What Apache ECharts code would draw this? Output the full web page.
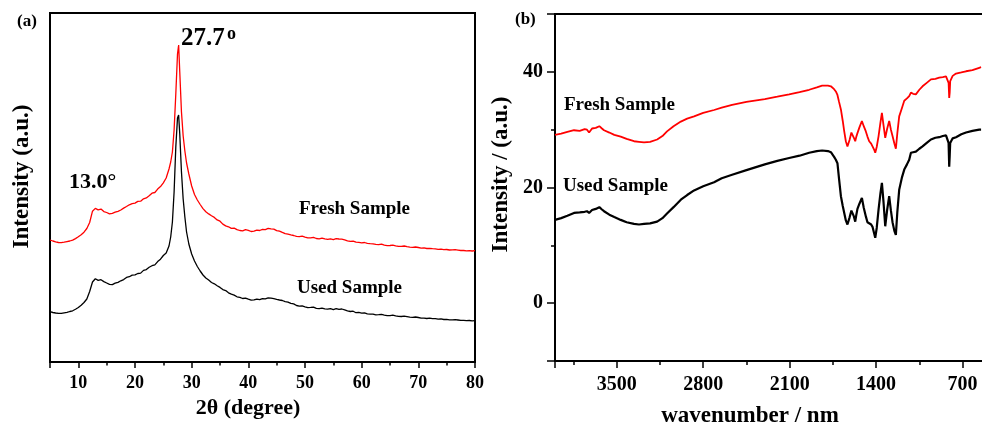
<!DOCTYPE html>
<html>
<head>
<meta charset="utf-8">
<title>XRD and FTIR of fresh and used samples</title>
<script src="https://cdn.jsdelivr.net/npm/echarts@6/dist/echarts.min.js"></script>
<style>
  html, body { margin: 0; padding: 0; background: #fff; }
  #chart { width: 982px; height: 427px; }
</style>
</head>
<body>
<div id="chart"></div>
<script>
// ---- (a) XRD patterns: 2θ in degrees, intensity in arbitrary units ----
const xrdAngle = [
  5, 5.5, 6, 6.5, 7, 7.5, 8, 8.5, 9, 9.5, 10, 10.5, 11, 11.5, 12, 12.5, 13, 13.5, 14, 14.5,
  15, 15.5, 16, 16.5, 17, 17.5, 18, 18.5, 19, 19.5, 20, 20.5, 21, 21.5, 22, 22.5, 23, 23.5,
  24, 24.5, 25, 25.5, 26, 26.3, 26.6, 26.9, 27.2, 27.5, 27.7, 27.9, 28.2, 28.5, 28.8, 29.1,
  29.5, 30, 30.5, 31, 31.5, 32, 32.5, 33, 33.5, 34, 34.5, 35, 35.5, 36, 36.5, 37, 37.5, 38,
  38.5, 39, 39.5, 40, 40.5, 41, 41.5, 42, 42.5, 43, 43.5, 44, 44.5, 45, 45.5, 46, 46.5, 47,
  47.5, 48, 48.5, 49, 49.5, 50, 50.5, 51, 51.5, 52, 52.5, 53, 53.5, 54, 54.5, 55, 55.5, 56,
  56.5, 57, 57.5, 58, 58.5, 59, 59.5, 60, 60.5, 61, 61.5, 62, 62.5, 63, 63.5, 64, 64.5, 65,
  65.5, 66, 66.5, 67, 67.5, 68, 68.5, 69, 69.5, 70, 70.5, 71, 71.5, 72, 72.5, 73, 73.5, 74,
  74.5, 75, 75.5, 76, 76.5, 77, 77.5, 78, 78.5, 79, 79.5, 80
];
const xrdFresh = [
  122, 121, 120.2, 119.5, 119.3, 119.8, 120.4, 121, 121.9, 123.4, 125.2, 127.2, 129.8, 133.5,
  139.5, 150.8, 153.6, 152.2, 152.9, 150.4, 149.5, 148.2, 148.6, 149.8, 150.7, 152, 153.9,
  155.5, 157.2, 158.4, 158.9, 160.6, 160.8, 163.2, 164.1, 166.3, 168.8, 169.5, 172.9, 175.4,
  179.2, 184, 193, 200, 210, 232, 268, 308, 317, 290, 250, 226, 211, 199, 188,
  176, 167.5, 162, 157.5, 153.4, 150.3, 148.1, 146.2, 144.6, 142.1, 140.8, 137.9, 136.1,
  135.2, 133.6, 133.8, 132.4, 131.5, 131.2, 132.3, 131.7, 130.5, 130.9, 131.9, 131.5, 132.6,
  132.4, 133.6, 133.1, 132.8, 131.4, 130.9, 129.6, 128.4, 127.8, 127.1, 126.5, 125.6, 125.4,
  125.8, 124.9, 124.2, 124.1, 124.6, 123.5, 123.2, 123.9, 123.1, 122.6, 123.2, 122.4, 123.4,
  123, 122.8, 122.1, 121.2, 120.6, 120.9, 119.8, 119.6, 119.2, 119.5, 118.6, 118.3, 118.1,
  117.6, 117.4, 117.8, 116.8, 116.4, 116.5, 116.9, 116.1, 115.6, 115.7, 116.0, 115.3, 114.8,
  114.6, 115.0, 114.5, 113.9, 114.1, 113.5, 113.7, 113.4, 113.2, 112.6, 112.9, 112.4, 112.5,
  112.0, 112.1, 112.3, 111.9, 111.5, 111.5, 111.1, 111.4, 111.0, 111.3
];
const xrdUsed = [
  50.3, 49.5, 49, 48.6, 48.7, 49.2, 49.6, 50.5, 51.2, 52.8, 54.5, 56.8, 59.5, 63, 70.5, 80,
  83.2, 81.6, 82.3, 80.4, 79, 77.6, 77.4, 78.8, 79.6, 81.2, 82.4, 84.6, 85.3, 86.9, 87.2, 88.5,
  88.9, 91.6, 92.4, 94.7, 96.3, 97.1, 100.4, 102.8, 106.5, 109, 116, 125, 140, 170, 215, 244,
  247, 228, 190, 163, 145, 130, 118,
  108, 101, 95.5, 91, 87, 84, 81.9, 79.5, 78.2, 76.3, 74.6, 72.4, 71.4, 69.2, 67.8, 66.9,
  65.2, 64.6, 63.5, 63.9, 62.8, 61.9, 62.1, 62.9, 62.4, 63.4, 63.1, 64.2, 63.8, 63.3, 62.6,
  62.0, 61.5, 60.4, 59.9, 58.6, 58.1, 56.5, 55.8, 56.1, 55.2, 54.4, 54.6, 54.9, 53.7, 53.3,
  53.9, 53.2, 52.8, 53.3, 52.4, 53.4, 52.6, 53.0, 52.1, 51.2, 50.5, 50.8, 49.3, 49.6, 48.9,
  49.2, 48.2, 47.9, 47.8, 47.2, 47.3, 47.6, 46.9, 46.3, 46.4, 46.8, 46.1, 45.6, 45.5, 45.9,
  45.4, 44.9, 44.6, 45.0, 44.5, 43.9, 43.9, 43.5, 43.8, 43.4, 43.4, 42.8, 43.1, 42.5, 42.6,
  42.1, 42.2, 42.4, 42.0, 41.6, 41.7, 41.3, 41.5, 41.1, 41.3
];

// ---- (b) FTIR spectra: wavenumber vs intensity ----
const irWavenumber = [
  4000, 3950, 3900, 3846, 3800, 3760, 3741, 3724, 3700, 3670, 3641, 3620, 3603, 3560, 3520,
  3468, 3420, 3360, 3320, 3279, 3230, 3173, 3130, 3093, 3040, 2981, 2930, 2874, 2800, 2712,
  2650, 2566, 2450, 2301, 2200, 2104, 2020, 1942, 1880, 1837, 1790, 1766, 1740, 1726, 1713,
  1700, 1685, 1670, 1658, 1645, 1632, 1615, 1600, 1591, 1580, 1569, 1560, 1551, 1535, 1515,
  1500, 1483, 1470, 1456, 1440, 1429, 1415, 1407, 1395, 1380, 1365, 1353, 1340, 1326, 1310,
  1294, 1280, 1267, 1252, 1240, 1228, 1213, 1190, 1172, 1150, 1132, 1118, 1100, 1078, 1050,
  1024, 990, 956, 920, 889, 860, 834, 820, 813, 808, 804, 800, 780, 753, 710, 672, 620, 565, 550
];
const irFresh = [
  29.1, 29.3, 29.6, 29.9, 29.8, 30.1, 30.0, 29.5, 30.2, 30.3, 30.6, 30.2, 29.9, 29.5, 29.1,
  28.8, 28.4, 28.0, 27.9, 27.8, 27.9, 28.3, 28.9, 29.7, 30.6, 31.4, 31.9, 32.3, 32.9, 33.4,
  33.8, 34.3, 34.8, 35.3, 35.7, 36.1, 36.5, 36.9, 37.3, 37.6, 37.6, 37.5, 37.0, 36.6, 36.0,
  34.8, 33.5, 31.5, 29.7, 28.0, 27.1, 28.2, 29.5, 29.4, 28.6, 28.0, 28.8, 29.4, 30.4, 31.5,
  30.6, 29.7, 28.8, 28.0, 27.6, 27.4, 26.5, 26.0, 27.0, 28.9, 31.2, 32.9, 30.8, 28.6, 30.2,
  31.5, 30.0, 28.9, 27.6, 26.7, 29.4, 32.3, 33.8, 35.0, 35.4, 35.8, 36.4, 36.2, 36.1, 36.9,
  37.5, 38.1, 38.7, 38.8, 39.0, 39.1, 39.2, 38.9, 38.1, 35.5, 36.4, 38.4, 39.3, 39.7, 39.9,
  40.1, 40.3, 40.7, 40.8
];
const irUsed = [
  14.4, 14.7, 15.1, 15.6, 15.7, 15.8, 15.9, 15.6, 16.1, 16.3, 16.6, 16.2, 15.9, 15.3, 14.9,
  14.4, 14.0, 13.7, 13.6, 13.7, 13.8, 14.1, 14.7, 15.5, 16.6, 17.9, 18.7, 19.5, 20.2, 20.9,
  21.6, 22.2, 23.0, 24.0, 24.6, 25.1, 25.5, 26.0, 26.3, 26.4, 26.3, 26.1, 25.3, 24.8, 24.2,
  21.5, 18.5, 16.8, 15.6, 14.3, 13.6, 14.8, 16.0, 16.2, 15.0, 14.1, 15.3, 16.3, 17.2, 18.2,
  16.5, 15.0, 14.0, 13.8, 13.6, 13.2, 12.0, 11.3, 13.0, 16.2, 19.0, 20.8, 17.5, 13.3, 16.2,
  18.5, 16.0, 14.0, 12.5, 11.8, 15.8, 19.6, 21.8, 23.1, 24.0, 24.8, 26.0, 26.1, 26.2, 26.7,
  27.1, 27.7, 28.3, 28.6, 28.7, 28.9, 29.0, 28.7, 27.7, 23.6, 25.5, 27.7, 28.5, 28.7, 29.2,
  29.5, 29.8, 30.0, 30.0
];

const irTicks = [700, 1400, 2100, 2800, 3500];

const SERIF = '"Liberation Serif", "Times New Roman", serif';
const BLACK = '#000000';
const RED = '#ff0000';

function pairs(xs, ys) {
  return xs.map(function (x, i) { return [x, ys[i]]; });
}

function boldText(size) {
  return { color: BLACK, fontFamily: SERIF, fontWeight: 'bold', fontSize: size };
}

function label(x, y, text, size) {
  return {
    type: 'text', x: x, y: y, silent: true,
    style: { text: text, fill: BLACK, font: 'bold ' + size + 'px ' + SERIF, verticalAlign: 'top' }
  };
}

const chart = echarts.init(document.getElementById('chart'), null, { renderer: 'canvas' });

chart.setOption({
  animation: false,
  backgroundColor: '#ffffff',
  grid: [
    {
      left: 50, top: 13, width: 425, height: 349, outerBoundsMode: 'none', containLabel: false,
      show: true, borderColor: BLACK, borderWidth: 2, backgroundColor: 'transparent'
    },
    {
      // the frame runs past the right edge of the canvas, so no right border shows
      left: 555, top: 14, width: 494, height: 347, outerBoundsMode: 'none', containLabel: false,
      show: true, borderColor: BLACK, borderWidth: 2, backgroundColor: 'transparent'
    }
  ],
  xAxis: [
    {
      gridIndex: 0, type: 'value', min: 5, max: 80, splitNumber: 7, position: 'bottom',
      axisLine: { onZero: false, lineStyle: { color: BLACK, width: 2 } },
      axisTick: { length: 6, lineStyle: { color: BLACK, width: 1.5 } },
      minorTick: { show: true, splitNumber: 2, length: 3.5, lineStyle: { color: BLACK, width: 1.5 } },
      axisLabel: Object.assign({ showMinLabel: false, margin: 12 }, boldText(18)),
      splitLine: { show: false },
      name: '2θ (degree)', nameLocation: 'middle', nameGap: 33,
      nameTextStyle: Object.assign({ padding: [0, 29, 0, 0] }, boldText(22))
    },
    {
      gridIndex: 1, type: 'value', min: 0, max: 4000, interval: 700, inverse: true, position: 'bottom',
      axisLine: { onZero: false, lineStyle: { color: BLACK, width: 2 } },
      axisTick: { length: 7, lineStyle: { color: BLACK, width: 1.5 } },
      minorTick: { show: true, splitNumber: 2, length: 4, lineStyle: { color: BLACK, width: 1.5 } },
      axisLabel: Object.assign({
        margin: 14,
        formatter: function (v) { return irTicks.indexOf(v) >= 0 ? String(v) : ''; }
      }, boldText(20)),
      splitLine: { show: false },
      name: 'wavenumber / nm', nameLocation: 'middle', nameGap: 44,
      nameTextStyle: Object.assign({ padding: [0, 104, 0, 0] }, boldText(23))
    }
  ],
  yAxis: [
    {
      gridIndex: 0, type: 'value', min: 0, max: 349, position: 'left',
      axisLine: { onZero: false, lineStyle: { color: BLACK, width: 2 } },
      axisTick: { show: false }, axisLabel: { show: false }, splitLine: { show: false },
      name: 'Intensity (a.u.)', nameLocation: 'middle', nameGap: 16,
      nameTextStyle: Object.assign({ padding: [0, 0, 0, 22] }, boldText(23))
    },
    {
      gridIndex: 1, type: 'value', min: -10, max: 50, splitNumber: 3, position: 'left',
      axisLine: { onZero: false, lineStyle: { color: BLACK, width: 2 } },
      axisTick: { length: 8, lineStyle: { color: BLACK, width: 1.5 } },
      minorTick: { show: true, splitNumber: 2, length: 4, lineStyle: { color: BLACK, width: 1.5 } },
      axisLabel: Object.assign({ showMinLabel: false, showMaxLabel: false, margin: 12 }, boldText(20)),
      splitLine: { show: false },
      name: 'Intensity / (a.u.)', nameLocation: 'middle', nameGap: 35,
      nameTextStyle: Object.assign({ padding: [0, 0, 0, 26] }, boldText(23))
    }
  ],
  series: [
    {
      name: 'Fresh Sample', type: 'line', xAxisIndex: 0, yAxisIndex: 0,
      data: pairs(xrdAngle, xrdFresh), showSymbol: false, lineStyle: { color: RED, width: 1.3 }
    },
    {
      name: 'Used Sample', type: 'line', xAxisIndex: 0, yAxisIndex: 0,
      data: pairs(xrdAngle, xrdUsed), showSymbol: false, lineStyle: { color: BLACK, width: 1.3 }
    },
    {
      name: 'Fresh Sample', type: 'line', xAxisIndex: 1, yAxisIndex: 1,
      data: pairs(irWavenumber, irFresh), showSymbol: false, lineStyle: { color: RED, width: 1.8 }
    },
    {
      name: 'Used Sample', type: 'line', xAxisIndex: 1, yAxisIndex: 1,
      data: pairs(irWavenumber, irUsed), showSymbol: false, lineStyle: { color: BLACK, width: 2.2 }
    }
  ],
  graphic: [
    label(17, 13, '(a)', 17),
    label(515, 11, '(b)', 17),
    label(181, 26, '27.7', 25),
    label(227, 25, 'o', 18),
    label(69, 171, '13.0°', 22),
    label(299, 200, 'Fresh Sample', 19),
    label(297, 279, 'Used Sample', 19),
    label(564, 96, 'Fresh Sample', 19),
    label(563, 177, 'Used Sample', 19)
  ]
});
</script>
</body>
</html>
